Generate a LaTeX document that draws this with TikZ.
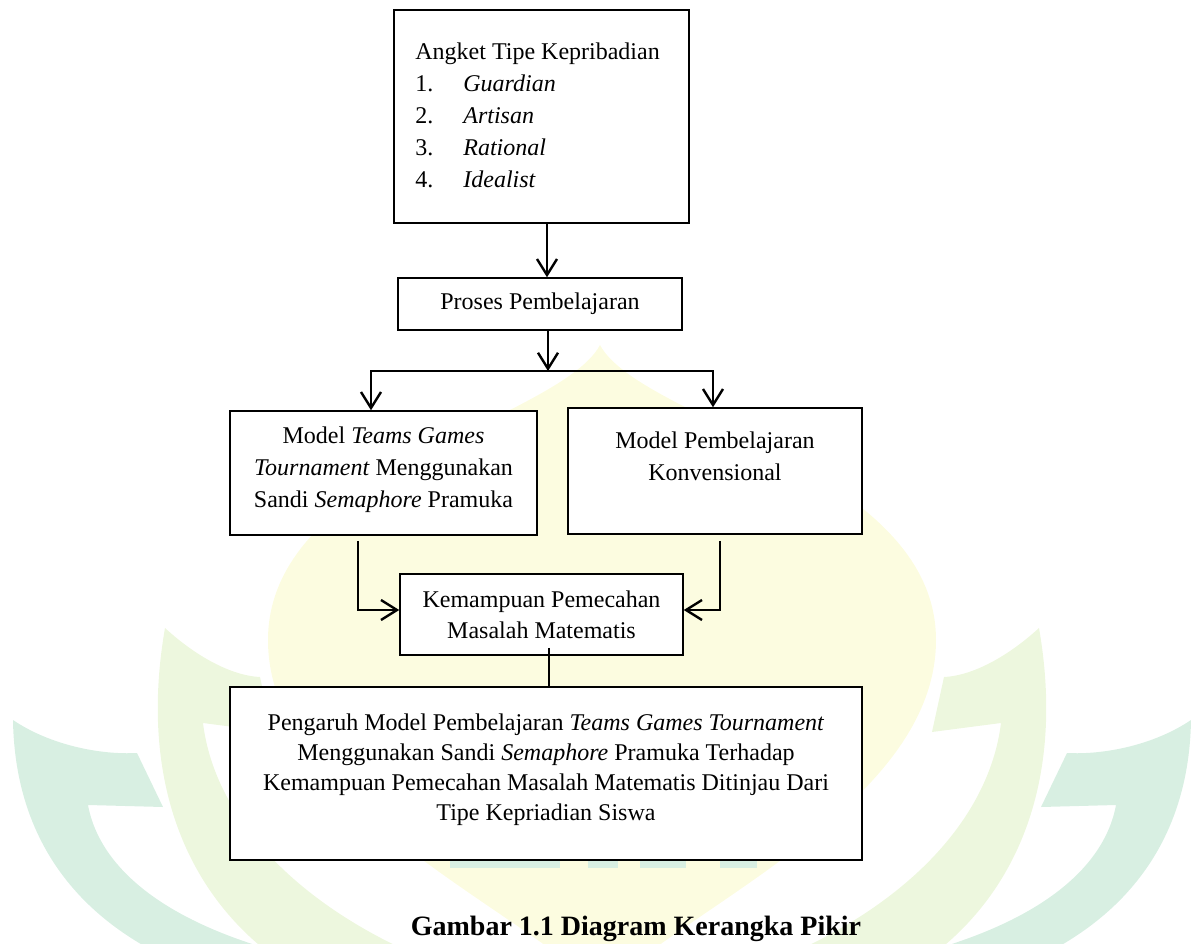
\documentclass[tikz,border=0pt]{standalone}
\usepackage{fontspec}
\setmainfont{Liberation Serif}
\usetikzlibrary{arrows.meta,calc}
\definecolor{wmyellow}{RGB}{252,252,224}
\definecolor{wmlime}{RGB}{237,247,222}
\definecolor{wmteal}{RGB}{216,239,226}
\tikzset{
 box/.style={draw=black, line width=0.75pt, fill=white, inner sep=0pt},
 txt/.style={inner sep=0pt, font=\fontsize{12}{15}\selectfont, anchor=base},
 txtl/.style={txt, anchor=base west},
 conn/.style={line width=1.2pt, draw=black, line join=miter},
 tipb/.tip={Straight Barb[length=8pt,width=10pt]},
 arr/.style={conn, -tipb},
}
\newcommand\wmleaves{%
  \fill[wmlime] (165,628) .. controls (200,660) and (235,676) .. (260,677) -- (272,732) -- (203,723)
     .. controls (215,820) and (300,910) .. (440,965) -- (330,990)
     .. controls (200,930) and (135,800) .. (165,628) -- cycle;
  \fill[wmteal] (13,720) .. controls (50,745) and (100,755) .. (137,753) -- (163,807) -- (88,805)
     .. controls (100,870) and (170,930) .. (320,962) -- (260,990)
     .. controls (90,950) and (15,850) .. (13,720) -- cycle;
}
\begin{document}
\begin{tikzpicture}[x=0.5pt,y=-0.5pt]
\useasboundingbox (0,0) rectangle (1191,944);
% watermark
\begin{scope}
\clip (0,0) rectangle (1191,944);
\fill[wmyellow] (600,345) .. controls (640,420) and (936,470) .. (936,640)
   .. controls (936,800) and (700,900) .. (602,990)
   .. controls (504,900) and (268,800) .. (268,640)
   .. controls (268,470) and (560,420) .. (600,345) -- cycle;
\wmleaves
\begin{scope}[shift={(1204,0)}, xscale=-1]
\wmleaves
\end{scope}
\fill[wmteal] (450,860) rectangle (560,868);
\fill[wmteal] (588,860) rectangle (618,868);
\fill[wmteal] (640,860) rectangle (686,868);
\fill[wmteal] (720,860) rectangle (757,868);
\end{scope}

% boxes
\node[box, minimum width=147.5pt, minimum height=106.5pt] (angket) at (541.5,116.5) {};
\node[box, minimum width=142pt, minimum height=26pt] (proses) at (540,304) {};
\node[box, minimum width=153.5pt, minimum height=62pt] (tgt) at (383.5,473) {};
\node[box, minimum width=147pt, minimum height=63pt] (konv) at (715,471) {};
\node[box, minimum width=141.5pt, minimum height=40.5pt] (kem) at (541.5,614.5) {};
\node[box, minimum width=316pt, minimum height=86.5pt] (pengaruh) at (546,773.5) {};

% texts
\node[txtl] (a0) at (415,59) {Angket Tipe Kepribadian};
\node[txtl] (n1) at (415,91) {1.};
\node[txtl] (n2) at (415,123) {2.};
\node[txtl] (n3) at (415,155) {3.};
\node[txtl] (n4) at (415,187) {4.};
\node[txtl] (i1) at (463,91) {\textit{Guardian}};
\node[txtl] (i2) at (463,123) {\textit{Artisan}};
\node[txtl] (i3) at (463,155) {\textit{Rational}};
\node[txtl] (i4) at (463,187) {\textit{Idealist}};

\node[txt] (p0) at (540,309) {Proses Pembelajaran};

\node[txt] (t1) at (383.5,443) {Model \textit{Teams Games}};
\node[txt] (t2) at (383.5,475) {\textit{Tournament} Menggunakan};
\node[txt] (t3) at (383.5,507) {Sandi \textit{Semaphore} Pramuka};

\node[txt] (k1) at (715,448) {Model Pembelajaran};
\node[txt] (k2) at (715,480) {Konvensional};

\node[txt] (m1) at (541.5,607) {Kemampuan Pemecahan};
\node[txt] (m2) at (541.5,638) {Masalah Matematis};

\node[txt] (g1) at (546,730) {Pengaruh Model Pembelajaran \textit{Teams Games Tournament}};
\node[txt] (g2) at (546,760) {Menggunakan Sandi \textit{Semaphore} Pramuka Terhadap};
\node[txt] (g3) at (546,790) {Kemampuan Pemecahan Masalah Matematis Ditinjau Dari};
\node[txt] (g4) at (546,820) {Tipe Kepriadian Siswa};

\node[txt, font=\fontsize{14}{17}\selectfont\bfseries] (cap) at (636,935) {Gambar 1.1 Diagram Kerangka Pikir};

% connectors
\coordinate (xa) at (547,0);
\coordinate (split) at (548,371);
\coordinate (xb) at (371,0);
\coordinate (xc) at (713,0);
\coordinate (xd) at (358,610);
\coordinate (xe) at (720,610);
\coordinate (xf) at (549,0);

\draw[arr] (angket.south -| xa) -- (proses.north -| xa);
\draw[arr] (proses.south -| split) -- (split);
\draw[conn, tipb-tipb] (tgt.north -| xb) -- (split -| xb) -- (split -| xc) -- (konv.north -| xc);
\draw[arr, shorten <=2.5pt] (tgt.south -| xd) -- (xd) -- (kem.west |- xd);
\draw[arr, shorten <=3pt] (konv.south -| xe) -- (xe) -- (kem.east |- xe);
\draw[conn, shorten <=-4pt] (kem.south -| xf) -- (pengaruh.north -| xf);
\end{tikzpicture}
\end{document}
